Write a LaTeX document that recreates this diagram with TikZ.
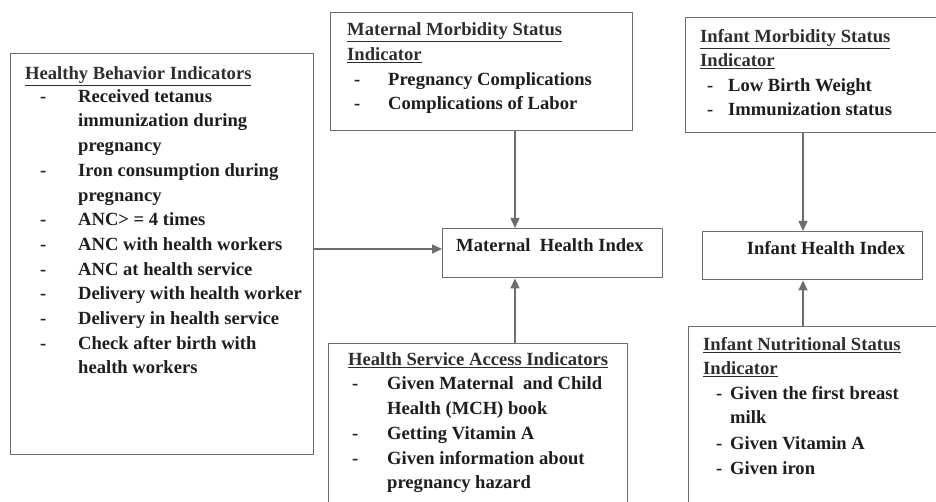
\documentclass[tikz,border=0pt]{standalone}
\usepackage{fontspec}
\setmainfont{Liberation Serif}
\usetikzlibrary{arrows.meta}
\definecolor{linegray}{HTML}{6E6E6E}
\definecolor{txt}{HTML}{1E1E1E}
\definecolor{hdtxt}{HTML}{2E2E2E}
\begin{document}
\begin{tikzpicture}[x=1pt,y=-1pt,
  box/.style={draw=linegray,line width=1.4pt,rectangle,inner sep=0pt,anchor=north west},
  arr/.style={draw=linegray,line width=1.4pt,-{Triangle[length=10pt,width=9pt]}},
  tx/.style={anchor=mid west,inner sep=0pt,text=txt,font=\fontsize{18.6}{24.6}\selectfont\bfseries},
  hd/.style={tx,text=hdtxt}
]
\useasboundingbox (0,0) rectangle (936,502);
\clip (0,0) rectangle (936,502);

% boxes
\node[box,minimum width=303pt,minimum height=401pt] (hb) at (10,53) {};
\node[box,minimum width=302pt,minimum height=118pt] (mm) at (330,12) {};
\node[box,minimum width=265pt,minimum height=115pt] (im) at (685,17) {};
\node[box,minimum width=220pt,minimum height=49pt] (mhi) at (442,228) {};
\node[box,minimum width=220pt,minimum height=48pt] (ihi) at (702,231) {};
\node[box,minimum width=299pt,minimum height=170pt] (hs) at (328,343) {};
\node[box,minimum width=262pt,minimum height=190pt] (inut) at (688,326) {};

% Healthy behavior
\node[hd] (hbh) at (25,77) {\underline{Healthy Behavior Indicators}};
\foreach \t [count=\i] in {{Received tetanus},{immunization during},{pregnancy},
  {Iron consumption during},{pregnancy},{ANC> = 4 times},{ANC with health workers},
  {ANC at health service},{Delivery with health worker},{Delivery in health service},
  {Check after birth with},{health workers}}
  \node[tx] (hb\i) at (78,{100+24.7*(\i-1)}) {\t};
\foreach \i in {1,4,6,7,8,9,10,11}
  \node[tx] (hbd\i) at (40,{100+24.7*(\i-1)}) {-};

% Maternal morbidity
\node[hd] (mmh1) at (347,33) {\underline{Maternal Morbidity Status}};
\node[hd] (mmh2) at (347,58) {\underline{Indicator}};
\node[tx] (mmd1) at (354,83) {-};
\node[tx] (mm1) at (388,83) {Pregnancy Complications};
\node[tx] (mmd2) at (354,107) {-};
\node[tx] (mm2) at (388,107) {Complications of Labor};

% Infant morbidity
\node[hd] (imh1) at (700,40) {\underline{Infant Morbidity Status}};
\node[hd] (imh2) at (700,64) {\underline{Indicator}};
\node[tx] (imd1) at (707,89) {-};
\node[tx] (im1) at (728,89) {Low Birth Weight};
\node[tx] (imd2) at (707,113) {-};
\node[tx] (im2) at (728,113) {Immunization status};

% indices
\node[tx,anchor=mid] (mhit) at (550,249) {Maternal\ \ Health Index};
\node[tx,anchor=mid] (ihit) at (826,252) {Infant Health Index};

% Health service access
\node[hd] (hsh) at (348,363) {\underline{Health Service Access Indicators}};
\foreach \t [count=\i] in {{Given Maternal\ \ and Child},{Health (MCH) book},
  {Getting Vitamin A},{Given information about},{pregnancy hazard}}
  \node[tx] (hs\i) at (387,{387.5+24.8*(\i-1)}) {\t};
\foreach \i in {1,3,4}
  \node[tx] (hsd\i) at (352,{387.5+24.8*(\i-1)}) {-};

% Infant nutritional
\node[hd] (inh1) at (703,348) {\underline{Infant Nutritional Status}};
\node[hd] (inh2) at (703,372) {\underline{Indicator}};
\node[tx] (ind1) at (716,397) {-};
\node[tx] (in1) at (730,397) {Given the first breast};
\node[tx] (in2) at (730,421) {milk};
\node[tx] (ind3) at (716,447) {-};
\node[tx] (in3) at (730,447) {Given Vitamin A};
\node[tx] (ind4) at (716,472) {-};
\node[tx] (in4) at (730,472) {Given iron};

% connectors
\coordinate (ax) at (515,0);
\coordinate (bx) at (803,0);
\coordinate (ay) at (0,249);
\draw[arr] (mm.south -| ax) -- (mhi.north -| ax);
\draw[arr] (hs.north -| ax) -- (mhi.south -| ax);
\draw[arr] (hb.east |- ay) -- (mhi.west |- ay);
\draw[arr] (im.south -| bx) -- (ihi.north -| bx);
\draw[arr] (inut.north -| bx) -- (ihi.south -| bx);
\end{tikzpicture}
\end{document}
